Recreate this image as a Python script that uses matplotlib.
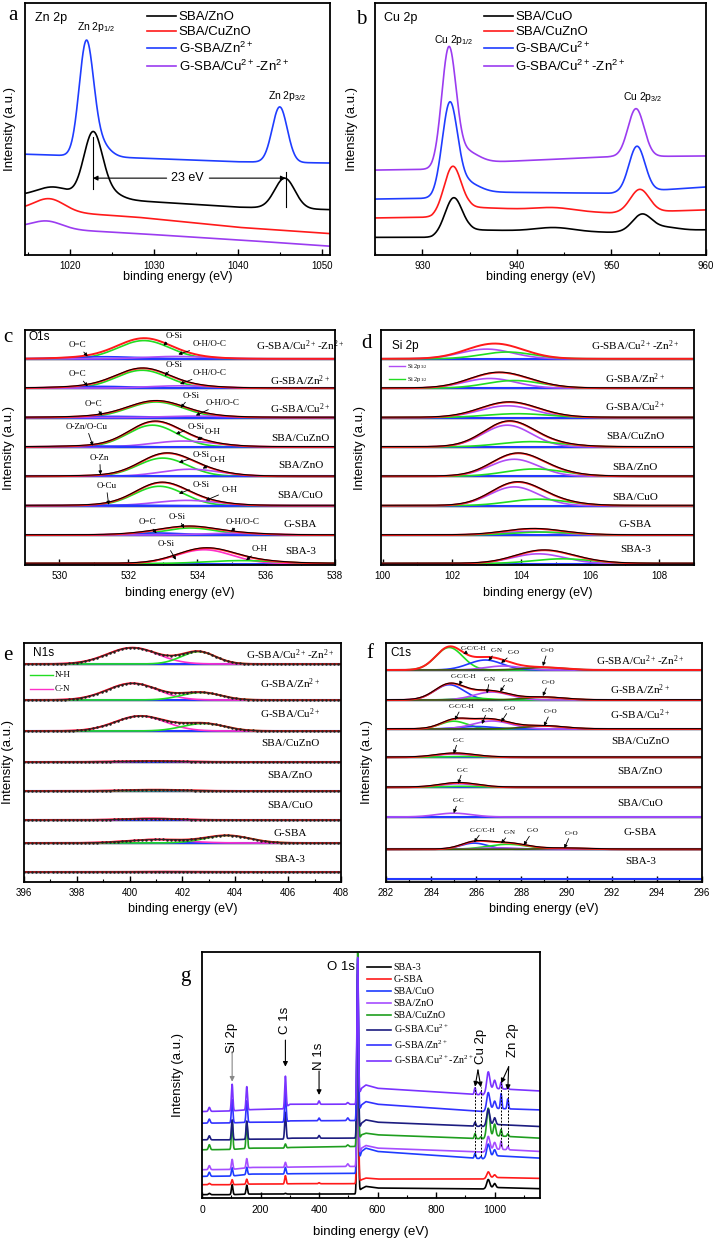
import numpy as np
import matplotlib.pyplot as plt
from matplotlib.ticker import MultipleLocator

plt.rcParams['font.family'] = ['Liberation Sans', 'DejaVu Sans']
plt.rcParams['axes.linewidth'] = 1.3
SERIF = ['Liberation Serif', 'DejaVu Serif']

RED = '#ff1a1a'
BLUE = '#2438ff'
GREEN = '#22dd22'
PURPLE = '#b04cf5'
MAGENTA = '#ff30c8'
COMP = {'g': GREEN, 'b': BLUE, 'p': PURPLE, 'm': MAGENTA, 'd': '#3c5a00'}

def sup(s):
    return r'$\mathregular{^{' + s + '}}$'

def sub(s):
    return r'$\mathregular{_{' + s + '}}$'

CU = 'Cu' + sup('2+')
ZN = 'Zn' + sup('2+')

# ---------------- a : Zn 2p ----------------
zn_names = ['SBA/ZnO', 'SBA/CuZnO', 'G-SBA/' + ZN, 'G-SBA/' + CU + '-' + ZN]
zn_colors = ['black', RED, '#1f3dff', '#9b3cf0']
zn_bg_x = [1014.6, 1028, 1040, 1051]
zn_bg = [[0.235, 0.215, 0.19, 0.18],
         [0.18, 0.15, 0.11, 0.085],
         [0.40, 0.385, 0.37, 0.365],
         [0.11, 0.085, 0.06, 0.035]]
zn_peaks = [[(1018.0, 2.0, 0.04), (1022.7, 1.1, 0.25), (1024.5, 1.5, 0.03), (1045.6, 1.2, 0.12)],
            [(1017.5, 1.8, 0.05)],
            [(1021.9, 0.85, 0.43), (1023.3, 1.2, 0.06), (1045.0, 0.9, 0.22)],
            [(1017.2, 1.8, 0.03)]]

# ---------------- b : Cu 2p ----------------
cu_names = ['SBA/CuO', 'SBA/CuZnO', 'G-SBA/' + CU, 'G-SBA/' + CU + '-' + ZN]
cu_colors = ['black', RED, '#1f3dff', '#9b3cf0']
cu_bg_x = [925, 931, 935, 950, 960]
cu_bg = [[0.07, 0.07, 0.10, 0.09, 0.10],
         [0.147, 0.15, 0.19, 0.167, 0.179],
         [0.222, 0.225, 0.25, 0.245, 0.27],
         [0.337, 0.34, 0.365, 0.39, 0.393]]
cu_peaks = [[(933.3, 0.9, 0.14), (944.0, 2.0, 0.015), (953.2, 1.0, 0.065), (955.5, 1.5, 0.015)],
            [(933.2, 0.9, 0.18), (944.0, 2.0, 0.012), (953.0, 1.0, 0.09)],
            [(932.9, 0.8, 0.35), (934.5, 1.4, 0.04), (952.7, 0.85, 0.18)],
            [(932.8, 0.75, 0.45), (934.4, 1.4, 0.05), (952.6, 0.85, 0.19)]]

# ---------------- c : O1s (rows top -> bottom) ----------------
o1s_labels = ['G-SBA/' + CU + '-' + ZN, 'G-SBA/' + ZN, 'G-SBA/' + CU, 'SBA/CuZnO',
              'SBA/ZnO', 'SBA/CuO', 'G-SBA', 'SBA-3']
o1s_label_y = [0.48, 0.28, 0.33, 0.31, 0.40, 0.37, 0.39, 0.45]
o1s_comps = [[(532.45, 0.75, 0.62, 'g'), (531.3, 1.0, 0.07, 'b'), (533.4, 0.9, 0.08, 'p')],
             [(532.4, 0.75, 0.61, 'g'), (531.2, 1.0, 0.06, 'b'), (533.5, 0.9, 0.08, 'p')],
             [(532.8, 0.8, 0.53, 'g'), (531.5, 1.0, 0.04, 'b'), (534.0, 0.9, 0.05, 'p')],
             [(532.7, 0.72, 0.74, 'g'), (533.6, 0.9, 0.2, 'p'), (531.0, 0.8, 0.03, 'b')],
             [(533.0, 0.72, 0.62, 'g'), (533.8, 0.85, 0.24, 'p'), (531.3, 0.8, 0.02, 'b')],
             [(532.9, 0.72, 0.66, 'g'), (533.7, 0.9, 0.18, 'p'), (531.5, 0.8, 0.02, 'b')],
             [(533.8, 0.75, 0.24, 'g'), (532.8, 0.8, 0.07, 'b'), (535.0, 0.9, 0.06, 'p')],
             [(534.2, 0.8, 0.47, 'm'), (535.3, 1.0, 0.10, 'g')]]
# (text, text x, text y, arrow x, arrow y) with y relative to the row bottom
o1s_notes = [[('O=C', 530.53, 0.48, 530.82, 0.10), ('O-Si', 533.33, 0.80, 533.02, 0.47), ('O-H/O-C', 534.35, 0.52, 533.45, 0.17)],
             [('O=C', 530.53, 0.49, 530.82, 0.08), ('O-Si', 533.33, 0.82, 533.06, 0.43), ('O-H/O-C', 534.35, 0.55, 533.5, 0.16)],
             [('O=C', 531.0, 0.47, 531.24, 0.09), ('O-Si', 533.82, 0.77, 533.52, 0.35), ('O-H/O-C', 534.74, 0.52, 533.96, 0.09)],
             [('O-Zn/O-Cu', 530.78, 0.71, 530.97, 0.06), ('O-Si', 533.96, 0.71, 533.38, 0.46), ('O-H', 534.45, 0.54, 534.0, 0.26)],
             [('O-Zn', 531.17, 0.65, 531.19, 0.08), ('O-Si', 534.1, 0.74, 533.47, 0.49), ('O-H', 534.6, 0.59, 534.16, 0.28)],
             [('O-Cu', 531.36, 0.69, 531.43, 0.05), ('O-Si', 534.1, 0.71, 533.47, 0.43), ('O-H', 534.93, 0.54, 534.25, 0.20)],
             [('O=C', 532.55, 0.45, 532.82, 0.08), ('O-Si', 533.43, 0.65, 533.62, 0.25), ('O-H/O-C', 535.32, 0.48, 534.98, 0.14)],
             [('O-Si', 533.11, 0.72, 533.38, 0.18), ('O-H', 535.81, 0.54, 535.42, 0.16)]]

# ---------------- d : Si 2p ----------------
si_labels = o1s_labels
si_label_y = [0.45, 0.33, 0.40, 0.37, 0.31, 0.31, 0.39, 0.54]
si_comps = [[(103.0, 0.75, 0.33, 'p'), (103.6, 0.75, 0.23, 'g')],
            [(103.1, 0.75, 0.33, 'p'), (103.8, 0.8, 0.26, 'g')],
            [(103.6, 0.8, 0.40, 'p'), (103.9, 0.9, 0.13, 'g')],
            [(103.6, 0.7, 0.74, 'p'), (104.3, 0.9, 0.18, 'g')],
            [(103.8, 0.7, 0.58, 'p'), (104.4, 0.85, 0.25, 'g')],
            [(103.8, 0.7, 0.64, 'p'), (104.5, 0.85, 0.22, 'g')],
            [(104.2, 0.8, 0.12, 'p'), (104.6, 0.85, 0.10, 'g')],
            [(104.5, 0.75, 0.33, 'p'), (105.2, 0.85, 0.16, 'g')]]

# ---------------- e : N1s (heights in px) ----------------
n1s_labels = o1s_labels
n1s_bases = [218, 182, 151, 120, 91, 62, 39, 10]
n1s_label_dy = [9, 16, 17.7, 19, 15, 14.3, 9.7, 12]
n1s_comps = [[(400.1, 0.95, 16.3, 'm'), (402.6, 0.65, 12.3, 'g')],
             [(400.1, 0.95, 16.7, 'm'), (402.7, 0.75, 7.5, 'g')],
             [(400.4, 0.95, 15.0, 'm'), (402.8, 0.8, 7.5, 'g')],
             [(400.8, 1.2, 1.0, 'm')],
             [(400.9, 1.2, 0.8, 'm'), (401.0, 1.0, 0.5, 'g')],
             [(400.8, 1.0, 1.5, 'm')],
             [(401.0, 1.1, 3.5, 'm'), (403.7, 0.85, 7.5, 'g')],
             [(401.0, 1.0, 0.3, 'm')]]

# ---------------- f : C1s (heights in px) ----------------
c1s_labels = o1s_labels
c1s_bases = [212, 182, 153, 124.7, 94.7, 65, 32.7, 3]
c1s_label_dy = [9, 10, 14.7, 16.3, 15.6, 14, 16.6, 17.3]
c1s_comps = [[(284.8, 0.6, 22.5, 'g'), (286.4, 0.75, 10, 'b'), (287.2, 0.8, 4, 'p'), (289.0, 0.9, 2.5, 'd')],
             [(284.8, 0.65, 15.3, 'b'), (285.8, 0.7, 2, 'g'), (286.7, 0.8, 8, 'p'), (289.0, 0.9, 2.7, 'd')],
             [(285.0, 0.6, 7.8, 'g'), (286.0, 0.8, 2.5, 'b'), (286.7, 0.85, 8, 'p'), (289.0, 0.9, 3, 'd')],
             [(285.0, 0.8, 3.3, 'p'), (285.5, 1.0, 0.8, 'g')],
             [(285.2, 0.8, 3.5, 'p'), (285.3, 0.9, 1.0, 'g')],
             [(285.0, 0.8, 3.8, 'p')],
             [(285.9, 0.6, 6.2, 'b'), (287.4, 0.9, 5, 'g'), (287.0, 0.8, 1.5, 'p'), (290.0, 0.9, 1.0, 'd')],
             []]
c1s_notes = [[('C-C/C-H', 285.9, 21.7, 285.43, 16), ('C-N', 286.9, 19.3, 286.54, 9.3), ('C-O', 287.65, 17.3, 287.1, 7), ('C=O', 289.16, 19.3, 288.95, 4)],
             [('C-C/C-H', 285.43, 23.3, 285.25, 15), ('C-N', 286.6, 20.7, 286.47, 6.7), ('C-O', 287.4, 20, 287.06, 8.3), ('C=O', 289.2, 17.3, 288.95, 4)],
             [('C-C/C-H', 285.36, 22.3, 285.05, 9), ('C-N', 286.5, 19, 286.25, 5), ('C-O', 287.5, 20.7, 287.1, 7), ('C=O', 289.3, 17.3, 289.0, 3)],
             [('C-C', 285.2, 17.3, 285.0, 3.5)],
             [('C-C', 285.4, 17.3, 285.2, 3.5)],
             [('C-C', 285.2, 16, 285.0, 3.8)],
             [('C-C/C-H', 286.3, 19.3, 285.9, 7), ('C-N', 287.5, 16.7, 287.1, 6), ('C-O', 288.5, 18.3, 288.1, 4), ('C=O', 290.2, 16, 289.9, 1)],
             []]

# ---------------- g : survey ----------------
sv_names = ['SBA-3', 'G-SBA', 'SBA/CuO', 'SBA/ZnO', 'SBA/CuZnO', 'G-SBA/' + CU, 'G-SBA/' + ZN,
            'G-SBA/' + CU + '-' + ZN]
sv_colors = ['black', RED, '#1e3cff', '#a64dff', '#1f9e1f', '#1c1c80', '#3232ff', '#7a33ff']
sv_bg_x = [0, 100, 170, 280, 300, 525, 545, 560, 600, 960, 985, 1155]
sv_bg = [[10, 10, 12, 12, 12, 12, 28, 35, 30, 27, 32, 28],
         [40, 40, 42, 42, 43, 43, 55, 60, 57, 57, 62, 59],
         [65, 66, 72, 72, 73, 74, 140, 150, 140, 118, 128, 120],
         [85, 86, 92, 92, 93, 95, 150, 158, 150, 138, 148, 140],
         [145, 146, 150, 150, 152, 155, 190, 195, 190, 178, 188, 180],
         [175, 175, 177, 177, 180, 180, 225, 235, 228, 215, 222, 215],
         [225, 226, 228, 228, 232, 233, 280, 290, 282, 260, 270, 265],
         [260, 262, 266, 268, 282, 282, 330, 340, 330, 310, 330, 322]]
sv_centres = [25, 103, 153, 285, 400, 498, 532, 933, 953, 978, 1000, 1022, 1045]
sv_heights = [[4, 30, 27, 2, 0, 0, 590, 0, 0, 25, 12, 0, 0],
              [4, 15, 15, 25, 3, 0, 580, 0, 0, 18, 8, 0, 0],
              [12, 25, 22, 20, 0, 0, 560, 15, 6, 37, 18, 0, 0],
              [12, 30, 28, 15, 0, 8, 560, 0, 0, 40, 20, 25, 10],
              [15, 85, 80, 12, 0, 5, 570, 15, 6, 85, 35, 20, 8],
              [12, 60, 55, 80, 8, 0, 510, 12, 5, 47, 20, 0, 0],
              [12, 70, 65, 90, 8, 8, 470, 0, 0, 50, 22, 45, 30],
              [12, 80, 70, 95, 10, 5, 425, 20, 8, 55, 25, 20, 8]]
sv_widths = [3, 2.5, 2.5, 2.5, 2.5, 3, 2.5, 2.5, 2.5, 5, 4, 2.5, 2.5]

W, H = 717, 1240
fig = plt.figure(figsize=(W / 100, H / 100), dpi=100)


def add_box(l, t, r, b):
    return fig.add_axes([l / W, 1 - b / H, (r - l) / W, (b - t) / H])


def gauss(x, c, s, h):
    return h * np.exp(-0.5 * ((x - c) / s) ** 2)


def style(ax, major, minor, fs=7, pad=4):
    ax.set_yticks([])
    ax.xaxis.set_major_locator(MultipleLocator(major))
    ax.xaxis.set_minor_locator(MultipleLocator(minor))
    ax.tick_params(axis='x', which='major', direction='in', length=4, width=1, labelsize=fs, pad=pad)
    ax.tick_params(axis='x', which='minor', direction='in', length=2, width=0.8)


def labels(l, t, r, b, xl_y, yl_x, letter, lx, ly, fs=9):
    fig.text((l + r) / 2 / W, 1 - xl_y / H, 'binding energy (eV)', ha='center', va='center', fontsize=fs)
    fig.text(yl_x / W, 1 - (t + b) / 2 / H, 'Intensity (a.u.)', rotation=90, ha='center', va='center', fontsize=9.5)
    fig.text(lx / W, 1 - ly / H, letter, ha='center', va='center', fontsize=15, family=SERIF)


def simple_panel(box, x, bg_x, bgs, peaks, colors, names, xlim, leg_x):
    ax = add_box(*box)
    for bg, pk, col, name in zip(bgs, peaks, colors, names):
        y = np.interp(x, bg_x, bg)
        for c, s, h in pk:
            y = y + gauss(x, c, s, h)
        ax.plot(x, y, color=col, lw=1.2, label=name)
    ax.set_xlim(*xlim)
    ax.set_ylim(0, 1)
    style(ax, 10, 5)
    ax.legend(loc='upper left', bbox_to_anchor=(leg_x, 0.968), frameon=False, fontsize=9.5,
              handlelength=2.2, handletextpad=0.2, labelspacing=0.2, borderpad=0, borderaxespad=0)
    return ax


def draw_rows(ax, x, bases, comps, env_black=True, dots=False):
    for k, (base, cp) in enumerate(zip(bases, comps)):
        ax.axhline(base, color='black', lw=1.0)
        env = np.zeros_like(x)
        ax.plot(x, base + 0 * x, color=BLUE, lw=1.5)
        for c, s, h, key in cp:
            g = gauss(x, c, s, h)
            env = env + g
            ax.plot(x, base + g, color=COMP[key], lw=1.2)
        if len(cp) > 1 or dots:
            ax.plot(x, base + env, color=RED, lw=1.4)
        if dots:
            ax.plot(x, base + env, color='#222222', lw=0.6, marker='.', ms=1.6, markevery=9)
        elif env_black and k > 0 and len(cp) > 1:
            ax.plot(x, base + env + 0.012 * (bases[0] - bases[1]), color='black', lw=0.7)


# ---- a ----
box_a = (25, 3, 330, 255)
ax = simple_panel(box_a, np.linspace(1014.6, 1051, 900), zn_bg_x, zn_bg, zn_peaks, zn_colors,
                  zn_names, (1014.6, 1051), 0.40)
ax.text(1015.8, 0.94, 'Zn 2p', fontsize=9, va='center')
ax.text(1023.1, 0.905, 'Zn 2p' + sub('1/2'), fontsize=7.5, ha='center', va='center')
ax.text(1045.9, 0.63, 'Zn 2p' + sub('3/2'), fontsize=7.5, ha='center', va='center')
ax.plot([1022.7, 1022.7], [0.26, 0.468], color='black', lw=0.8)
ax.plot([1045.7, 1045.7], [0.19, 0.33], color='black', lw=0.8)
arr = dict(arrowstyle='-|>', lw=0.8, color='black', mutation_scale=7, shrinkA=0, shrinkB=0)
ax.annotate('', xy=(1022.7, 0.305), xytext=(1031.5, 0.305), arrowprops=arr)
ax.annotate('', xy=(1045.7, 0.305), xytext=(1036.6, 0.305), arrowprops=arr)
ax.text(1034.0, 0.305, '23 eV', fontsize=9, ha='center', va='center')
labels(*box_a, 277, 10, 'a', 13, 15)

# ---- b ----
box_b = (375, 3, 706, 255)
ax = simple_panel(box_b, np.linspace(925, 960, 900), cu_bg_x, cu_bg, cu_peaks, cu_colors,
                  cu_names, (925, 960), 0.328)
ax.text(926.0, 0.94, 'Cu 2p', fontsize=9, va='center')
ax.text(933.3, 0.853, 'Cu 2p' + sub('1/2'), fontsize=7.5, ha='center', va='center')
ax.text(953.3, 0.628, 'Cu 2p' + sub('3/2'), fontsize=7.5, ha='center', va='center')
labels(*box_b, 277, 352, 'b', 361, 20)

# ---- c ----
box_c = (25, 330, 335, 565)
ax = add_box(*box_c)
xo = np.linspace(529, 538, 700)
bases_c = [7.02, 6.02, 5.02, 4.02, 3.02, 2.02, 1.02, 0.05]
draw_rows(ax, xo, bases_c, o1s_comps)
arrow_s = dict(arrowstyle='-|>', color='black', lw=0.6, mutation_scale=5, shrinkA=0, shrinkB=0)
for j in range(8):
    bottom = 7 - j
    for txt, tx, ty, axx, ayy in o1s_notes[j]:
        ax.annotate(txt, xy=(axx, bottom + ayy), xytext=(tx, bottom + ty), fontsize=6.5, family=SERIF,
                    ha='center', va='center', arrowprops=arrow_s)
    ax.text(537.0, bottom + o1s_label_y[j], o1s_labels[j], fontsize=8, family=SERIF, ha='center', va='center')
ax.text(529.1, 7.76, 'O1s', fontsize=8.5, va='center')
ax.set_xlim(529, 538)
ax.set_ylim(0, 8)
style(ax, 2, 1)
labels(*box_c, 593, 9, 'c', 8, 338)

# ---- d ----
box_d = (381, 330, 694, 565)
ax = add_box(*box_d)
xs = np.linspace(99.95, 109, 700)
draw_rows(ax, xs, bases_c, si_comps)
for j in range(8):
    bottom = 7 - j
    ax.text(107.3, bottom + si_label_y[j], si_labels[j], fontsize=8, family=SERIF, ha='center', va='center')
ax.plot([100.17, 100.65], [6.76, 6.76], color=PURPLE, lw=1)
ax.plot([100.17, 100.65], [6.33, 6.33], color=GREEN, lw=1)
ax.text(100.7, 6.76, 'Si 2p' + sub('3/2'), fontsize=4.5, family=SERIF, va='center')
ax.text(100.7, 6.33, 'Si 2p' + sub('1/2'), fontsize=4.5, family=SERIF, va='center')
ax.text(100.26, 7.46, 'Si 2p', fontsize=8.5, va='center')
ax.set_xlim(99.95, 109)
ax.set_ylim(0, 8)
style(ax, 2, 1)
labels(*box_d, 593, 360, 'd', 367, 343)

# ---- e ----
box_e = (24, 643, 341, 882)
ax = add_box(*box_e)
xn = np.linspace(396, 408, 700)
draw_rows(ax, xn, n1s_bases, n1s_comps, dots=True)
for j in range(8):
    ax.text(406.07, n1s_bases[j] + n1s_label_dy[j], n1s_labels[j], fontsize=8, family=SERIF,
            ha='center', va='center')
ax.plot([396.23, 397.1], [207, 207], color=GREEN, lw=1)
ax.plot([396.23, 397.1], [193, 193], color=MAGENTA, lw=1)
ax.text(397.15, 207, 'N-H', fontsize=6.5, family=SERIF, va='center')
ax.text(397.15, 193, 'C-N', fontsize=6.5, family=SERIF, va='center')
ax.text(396.35, 229, 'N1s', fontsize=8.5, va='center')
ax.set_xlim(396, 408)
ax.set_ylim(0, 239)
style(ax, 2, 1)
labels(*box_e, 909, 8, 'e', 8, 656)

# ---- f ----
box_f = (386, 643, 702, 882)
ax = add_box(*box_f)
xc = np.linspace(282, 296, 800)
draw_rows(ax, xc, c1s_bases, c1s_comps)
for j in range(8):
    base = c1s_bases[j]
    for txt, tx, ty, axx, ayy in c1s_notes[j]:
        ax.annotate(txt, xy=(axx, base + ayy), xytext=(tx, base + ty), fontsize=5, family=SERIF,
                    ha='center', va='center', arrowprops=arrow_s)
    ax.text(293.27, base + c1s_label_dy[j], c1s_labels[j], fontsize=8, family=SERIF, ha='center', va='center')
ax.text(282.18, 229, 'C1s', fontsize=8.5, va='center')
ax.set_xlim(282, 296)
ax.set_ylim(0, 239)
style(ax, 2, 1)
labels(*box_f, 909, 367, 'f', 370, 653)

# ---- g ----
box_g = (202, 952, 540, 1198)
ax = add_box(*box_g)
xv = np.linspace(0, 1155, 5000)
for bg, hs, col, name in zip(sv_bg, sv_heights, sv_colors, sv_names):
    y = np.interp(xv, sv_bg_x, bg)
    for c, s, h in zip(sv_centres, sv_widths, hs):
        y = y + gauss(xv, c, s, h)
    ax.plot(xv, y, color=col, lw=1.2, label=name)
ax.set_xlim(0, 1155)
ax.set_ylim(0, 740)
style(ax, 200, 100, fs=7.5, pad=5)
ax.legend(loc='upper left', bbox_to_anchor=(0.487, 0.955), frameon=False, prop={'family': SERIF, 'size': 7.2},
          handlelength=2.4, handletextpad=0.3, labelspacing=0.3, borderpad=0, borderaxespad=0)
garr = dict(arrowstyle='-|>', lw=0.8, color='black', mutation_scale=7, shrinkA=0, shrinkB=0)
ax.text(103, 480, 'Si 2p', rotation=90, fontsize=9.5, ha='center', va='center')
ax.annotate('', xy=(103, 350), xytext=(103, 440), arrowprops=dict(garr, color='#888888'))
ax.text(285, 533, 'C 1s', rotation=90, fontsize=9.5, ha='center', va='center')
ax.annotate('', xy=(285, 395), xytext=(285, 475), arrowprops=garr)
ax.text(400, 427, 'N 1s', rotation=90, fontsize=9.5, ha='center', va='center')
ax.annotate('', xy=(400, 310), xytext=(400, 382), arrowprops=garr)
ax.text(522, 695, 'O 1s', fontsize=9.5, ha='right', va='center')
ax.text(955, 455, 'Cu 2p', rotation=90, fontsize=9.5, ha='center', va='center')
ax.annotate('', xy=(933, 335), xytext=(943, 385), arrowprops=garr)
ax.annotate('', xy=(953, 333), xytext=(943, 385), arrowprops=garr)
ax.plot([933, 933], [125, 335], color='black', lw=0.7, ls=(0, (2, 1.5)))
ax.plot([953, 953], [125, 333], color='black', lw=0.7, ls=(0, (2, 1.5)))
ax.text(1062, 475, 'Zn 2p', rotation=90, fontsize=9.5, ha='center', va='center')
ax.annotate('', xy=(1022, 345), xytext=(1048, 395), arrowprops=garr)
ax.annotate('', xy=(1045, 325), xytext=(1048, 395), arrowprops=garr)
ax.plot([1022, 1022], [155, 345], color='black', lw=0.7, ls=(0, (2, 1.5)))
ax.plot([1045, 1045], [155, 325], color='black', lw=0.7, ls=(0, (2, 1.5)))
labels(*box_g, 1232, 178, 'g', 185, 977, fs=9.5)

fig.savefig('out.png', dpi=100)
